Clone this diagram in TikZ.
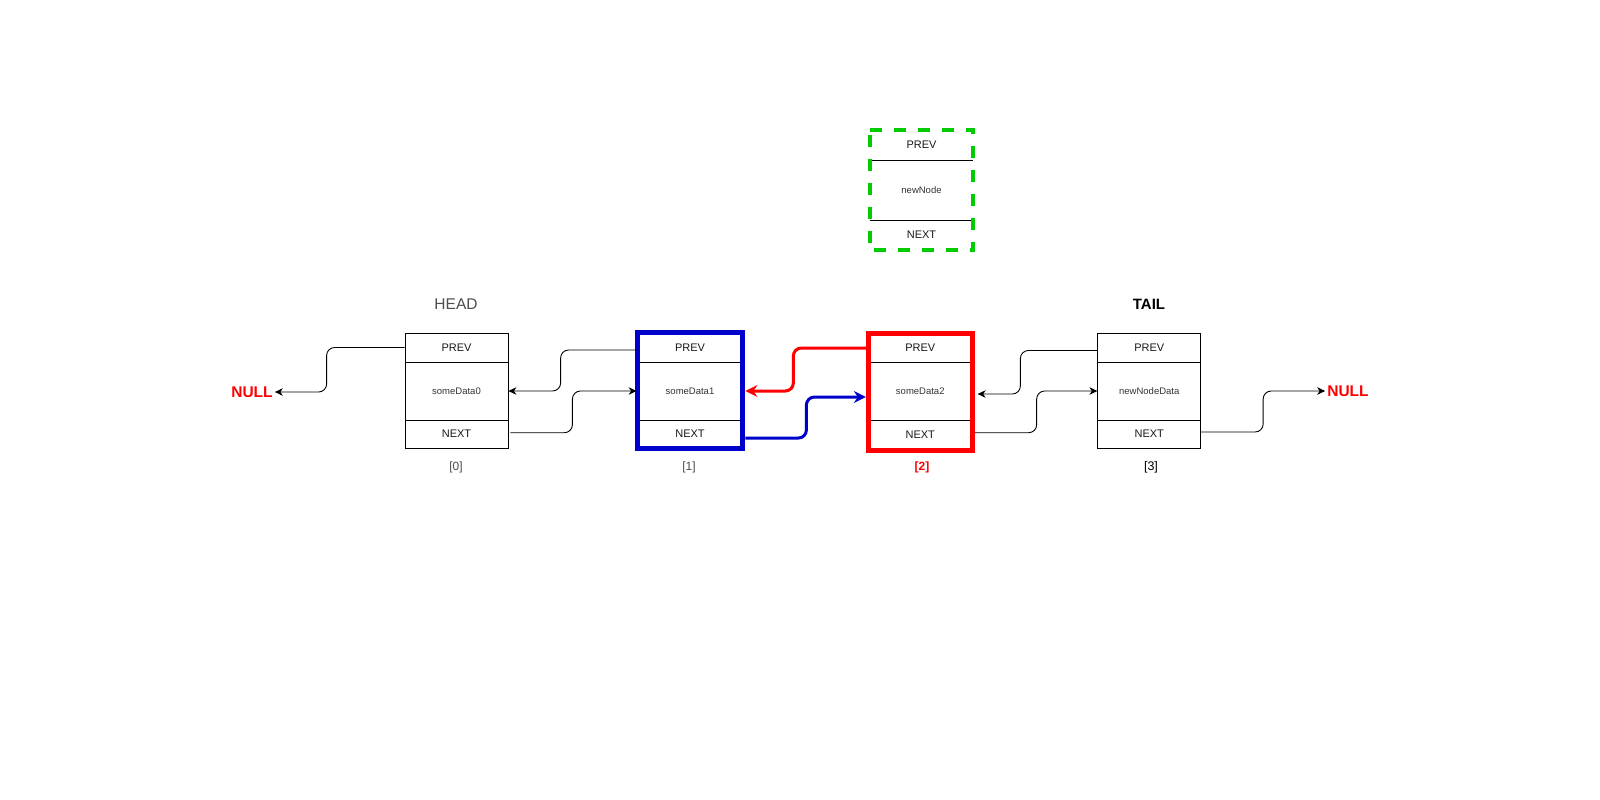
\documentclass[tikz,border=0pt]{standalone}
\usepackage{fontspec}
\setmainfont{Liberation Sans}
\usetikzlibrary{arrows.meta,fit,calc}
\definecolor{gr}{HTML}{4D4D4D}
\definecolor{dgreen}{HTML}{00CC00}
\definecolor{dblue}{HTML}{0000CC}
\begin{document}
\begin{tikzpicture}[x=1pt,y=-1pt,
  sec/.style={draw=black,line width=0.8pt,minimum width=103pt,inner sep=0pt,font=\fontsize{11}{13}\selectfont,text=black!90},
  dat/.style={draw=black,line width=0.8pt,minimum width=103pt,inner sep=0pt,font=\fontsize{9.5}{11}\selectfont,text=black!80},
  gsec/.style={minimum width=103pt,inner sep=0pt,font=\fontsize{11}{13}\selectfont,text=black!90},
  gdat/.style={minimum width=103pt,inner sep=0pt,font=\fontsize{9.5}{11}\selectfont,text=black!80},
  lbl/.style={inner sep=0pt,font=\fontsize{12}{14}\selectfont,text=gr},
  nulltxt/.style={inner sep=2pt,font=\bfseries\fontsize{15.5}{18}\selectfont,text=red},
  conn/.style={draw=black,line width=0.9pt,rounded corners=8pt,-{Stealth[length=8pt,width=7.5pt,inset=2.5pt]}},
  thick/.style={line width=3pt,rounded corners=8pt,-{Stealth[length=12pt,width=12pt,inset=4pt]}}
]
\useasboundingbox (0,0) rectangle (1600,800);
\fill[white] (0,0) rectangle (1600,800);

% node 0
\node[sec,minimum height=29pt] (p0) at (456.5,347.5) {PREV};
\node[dat,minimum height=58pt] (d0) at (456.5,391) {someData0};
\node[sec,minimum height=28pt] (x0) at (456.5,434) {NEXT};
% node 1
\node[sec,minimum height=29pt,minimum width=104pt] (p1) at (690,347.5) {PREV};
\node[dat,minimum height=58pt,minimum width=104pt] (d1) at (690,391) {someData1};
\node[sec,minimum height=28pt,minimum width=104pt] (x1) at (690,434) {NEXT};
\node[fit=(p1)(x1),inner sep=0pt,draw=dblue,line width=5pt] (b1) {};
% node 2
\node[sec,minimum height=28pt] (p2) at (920.25,348) {PREV};
\node[dat,minimum height=58pt] (d2) at (920.25,391) {someData2};
\node[sec,minimum height=30pt] (x2) at (920.25,435) {NEXT};
\node[fit=(p2)(x2),inner sep=0pt,draw=red,line width=5pt] (b2) {};
% node 3
\node[sec,minimum height=29pt] (p3) at (1149.25,347.5) {PREV};
\node[dat,minimum height=58pt] (d3) at (1149.25,391) {newNodeData};
\node[sec,minimum height=28pt] (x3) at (1149.25,434) {NEXT};

% new node
\node[gsec,minimum height=30pt] (gp) at (921.5,145) {PREV};
\node[gdat,minimum height=60pt] (gd) at (921.5,190) {newNode};
\node[gsec,minimum height=30pt] (gx) at (921.5,235) {NEXT};
\draw[black,line width=0.8pt] (gp.south west) -- (gp.south east);
\draw[black,line width=0.8pt] (gd.south west) -- (gd.south east);
\node[fit=(gp)(gx),inner sep=0pt] (g) {};
\draw[dgreen,line width=4pt,dash pattern=on 12pt off 12pt,line join=miter]
  (g.north west) -- (g.north east) -- (g.south east) -- (g.south west) -- cycle;

% labels
\node[inner sep=0pt,font=\fontsize{15.5}{18}\selectfont,text=gr] (head) at (456,304) {HEAD};
\node[inner sep=0pt,font=\bfseries\fontsize{15}{18}\selectfont,text=black] (tail) at (1149,304) {TAIL};
\node[lbl] (i0) at (456,467) {[0]};
\node[lbl] (i1) at (689,467) {[1]};
\node[lbl,text=red,font=\bfseries\fontsize{12}{14}\selectfont] (i2) at (922,467) {[2]};
\node[lbl,text=black,font=\fontsize{12.5}{14}\selectfont] (i3) at (1151,467) {[3]};
\node[nulltxt] (nl) at (252,392) {NULL};
\node[nulltxt] (nr) at (1348,391) {NULL};

% coordinates
\coordinate (s0) at ([xshift=2pt,yshift=1.3pt]x0.east);
\coordinate (s1) at ([xshift=3pt,yshift=-4pt]x1.east);
\coordinate (e2) at ([xshift=-2.5pt,yshift=-6pt]d2.west);
\coordinate (d2r) at ([xshift=5.5pt,yshift=-3pt]d2.east);
\coordinate (s3) at ([yshift=-3pt]p3.west);
\coordinate (d1r) at ([xshift=3pt]d1.east);
\coordinate (s2) at ([xshift=2.5pt,yshift=2.3pt]x2.east);
\coordinate (s4) at ([yshift=2pt]x3.east);

% connectors
\draw[conn] (p0.west) -- ++(-78,0) |- (nl.east);
\draw[conn] ([yshift=-2.5pt]p1.west) -- ++(-77,0) |- (d0.east);
\draw[conn] (s0) -- ++(62,0) |- ([xshift=-1pt]d1.west);
\draw[thick,red] (p2.west) -- ++(-75,0) |- (d1r);
\draw[thick,dblue] (s1) -- ++(61,0) |- (e2);
\draw[conn] (s3) -- ++(-77,0) |- (d2r);
\draw[conn] (s2) -- ++(62,0) |- (d3.west);
\draw[conn] (s4) -- ++(62,0) |- (nr.west);
\end{tikzpicture}
\end{document}
